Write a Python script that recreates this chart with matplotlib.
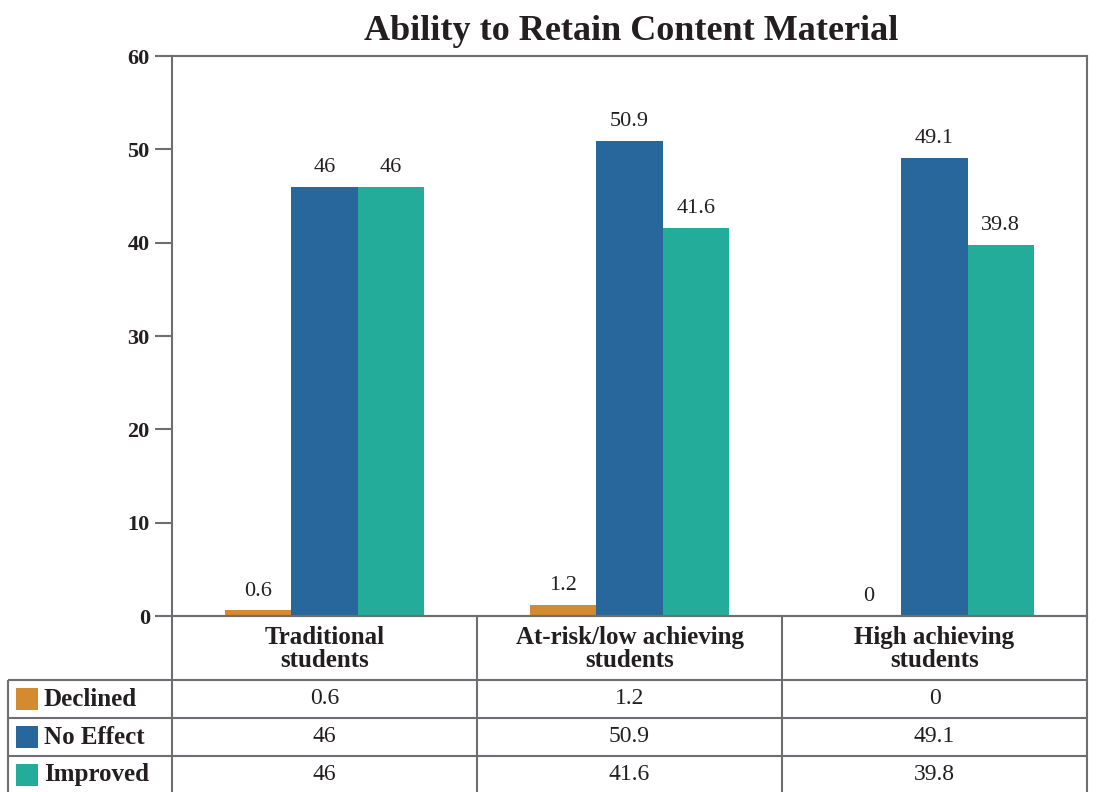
import matplotlib.pyplot as plt
from matplotlib.patches import Rectangle

categories = ["Traditional\nstudents", "At-risk/low achieving\nstudents", "High achieving\nstudents"]
series = ["Declined", "No Effect", "Improved"]
declined = [0.6, 1.2, 0]
no_effect = [46, 50.9, 49.1]
improved = [46, 41.6, 39.8]
yticks = [0, 10, 20, 30, 40, 50, 60]

colors = ["#D48A2E", "#28679B", "#22AC99"]
text_color = "#231F20"
line_color = "#6D6E71"
serif = ["Liberation Serif", "DejaVu Serif"]

W, H = 1096, 792
fig = plt.figure(figsize=(W / 100, H / 100), dpi=100)

# chart area in pixel terms
left, right, top, bottom = 172, 1087, 56, 616
ax = fig.add_axes([left / W, 1 - bottom / H, (right - left) / W, (bottom - top) / H])

values = [declined, no_effect, improved]
bw = 0.217
x = range(len(categories))
for k, (vals, c) in enumerate(zip(values, colors)):
    pos = [i + (k - 1) * bw for i in x]
    ax.bar(pos, vals, width=bw, color=c, linewidth=0)
    for p, v in zip(pos, vals):
        ax.annotate(f"{v:g}", (p, v), xytext=(0, 7), textcoords="offset points",
                    ha="center", va="bottom", fontsize=16, color=text_color,
                    family=serif)

ax.set_xlim(-0.5, 2.5)
ax.set_ylim(0, 60)
ax.set_xticks([])
ax.set_yticks(yticks)
ax.set_yticklabels([str(t) for t in yticks], fontsize=16, fontweight="bold",
                   family=serif, color=text_color)
ax.tick_params(axis="y", length=12, width=1.5, color=line_color, pad=4)
for s in ax.spines.values():
    s.set_color(line_color)
    s.set_linewidth(1.5)

fig.text(631 / W, 1 - 31 / H, "Ability to Retain Content Material", ha="center",
         va="center", fontsize=26, fontweight="bold", family=serif, color=text_color)

# data table under the chart, in pixel coordinates
ov = fig.add_axes([0, 0, 1, 1])
ov.set_xlim(0, W)
ov.set_ylim(H, 0)
ov.axis("off")

to_px = lambda xd: ax.transData.transform((xd, 0))[0]
bounds = [to_px(i - 0.5) for i in range(len(categories) + 1)]
rows = [680, 718, 756, 794]
lw = 1.5
kw = dict(color=line_color, lw=lw, solid_capstyle="butt")

ov.plot([bounds[0], bounds[-1]], [bottom, bottom], **kw)
for r in rows[:-1]:
    ov.plot([8, bounds[-1]], [r, r], **kw)
ov.plot([8, 8], [rows[0], H], **kw)
for b in bounds:
    ov.plot([b, b], [bottom, H], **kw)

for i, cat in enumerate(categories):
    cx = (bounds[i] + bounds[i + 1]) / 2
    ov.text(cx, (bottom + rows[0]) / 2 + 1, cat, ha="center", va="center",
            fontsize=18, fontweight="bold", family=serif, color=text_color,
            linespacing=1.0)

for k, (name, vals, c) in enumerate(zip(series, values, colors)):
    y0, y1 = rows[k], rows[k + 1]
    cy = (y0 + y1) / 2
    ov.add_patch(Rectangle((16, cy - 11), 22, 22, color=c, lw=0))
    ov.text(44, cy, name, ha="left", va="center", fontsize=18, fontweight="bold",
            family=serif, color=text_color)
    for i, v in enumerate(vals):
        cx = (bounds[i] + bounds[i + 1]) / 2
        ov.text(cx, cy, f"{v:g}", ha="center", va="center", fontsize=17,
                family=serif, color=text_color)

fig.savefig("out.png", dpi=100)
